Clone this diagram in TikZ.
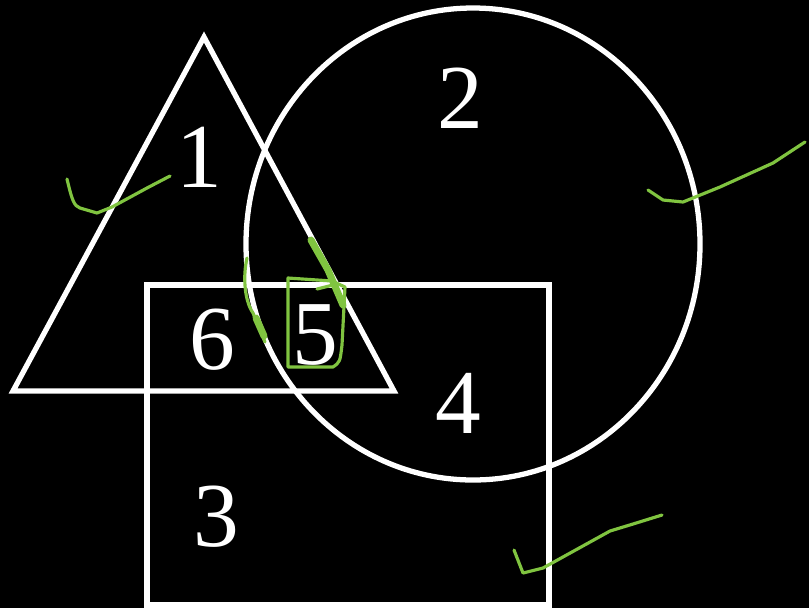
\documentclass[tikz,border=0pt]{standalone}
\usepackage{fontspec}
\setmainfont{Liberation Serif}
\usetikzlibrary{calc}
\definecolor{pen}{RGB}{128,196,64}
\tikzset{setline/.style={draw=white,line width=1.5pt},
  num/.style={text=white,font=\fontsize{26}{30}\selectfont,inner sep=0pt},
  ink/.style={draw=pen,line width=0.9pt,line cap=round,line join=round}}

\begin{document}
\begin{tikzpicture}[x=0.01cm,y=-0.01cm]
\fill[black] (0,0) rectangle (809,608);
\useasboundingbox (0,0) rectangle (809,608);
% --- the three sets
\draw[setline] (204,37) -- (394,391) -- (13,391) -- cycle;
\draw[setline] (473,244) ellipse [x radius=227,y radius=236];
\draw[setline] (147,605) -- (147,285) -- (549,285) -- (549,605) -- cycle;
% --- region numbers
\node[num] (r1) at (199,157) {1};
\node[num] (r2) at (460,98) {2};
\node[num] (r3) at (216,517) {3};
\node[num] (r4) at (458,403) {4};
\node[num] (r5) at (315,335) {5};
\node[num] (r6) at (212,340) {6};
% --- green pen marks
\draw[ink] (67,179) .. controls (72,200) and (74,206) .. (80,208) -- (97,213) -- (112,207) -- (147,188) -- (170,176);
\draw[ink] (648,190) -- (663,200) -- (683,202) -- (720,187) -- (773,163) -- (805,142);
\draw[ink] (514,550) -- (523,573) -- (543,568) -- (610,531) -- (633,524) -- (662,515);
\draw[ink] (247,258) .. controls (243,275) and (244,300) .. (253,313) -- (265,342);
\draw[ink,line width=2pt] (256,318) -- (264,336);
\draw[ink,line width=2pt] (311,240) -- (328,270) -- (343,305);
\draw[ink] (288,278) -- (332,281) -- (345,287) -- (342,345) .. controls (340,362) .. (333,367) -- (288,367) -- cycle;
\draw[ink] (317,289) -- (333,285);
\end{tikzpicture}
\end{document}
